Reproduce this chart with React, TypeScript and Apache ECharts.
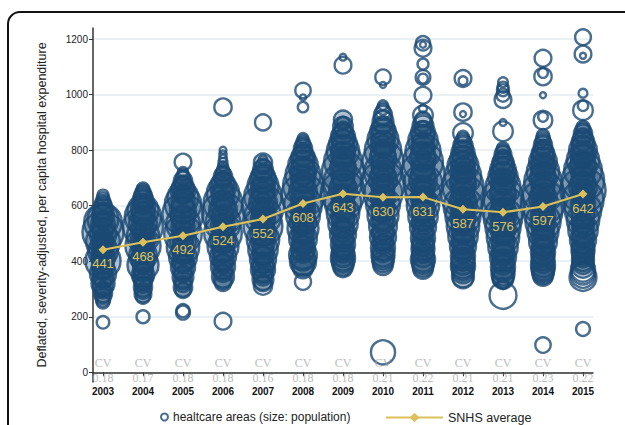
import React, { useEffect, useRef } from "react";
import * as echarts from "echarts";

const years = [2003, 2004, 2005, 2006, 2007, 2008, 2009, 2010, 2011, 2012, 2013, 2014, 2015];
const snhsAverage = [441, 468, 492, 524, 552, 608, 643, 630, 631, 587, 576, 597, 642];
const cvValues = [0.18, 0.17, 0.18, 0.18, 0.16, 0.18, 0.18, 0.21, 0.22, 0.21, 0.21, 0.23, 0.22];
const yTicks = [0, 200, 400, 600, 800, 1000, 1200];

// [expenditure, population (thousands)] per healthcare area
const areas2003: [number, number][] = [
  [638, 60], [626, 90], [612, 150], [600, 220], [588, 300], [575, 250], [563, 400], [551, 900], [540, 1400],
  [528, 500], [517, 350], [505, 1700], [494, 600], [482, 300], [470, 1100], [459, 450], [447, 250], [436, 800],
  [424, 380], [413, 500], [401, 1200], [390, 300], [378, 420], [366, 260], [355, 600], [343, 350], [331, 200],
  [320, 450], [308, 300], [296, 180], [285, 250], [274, 160], [262, 130], [252, 90], [180, 90],
  [545, 200], [480, 150], [420, 180], [360, 150], [300, 120],
];
const areas2004: [number, number][] = [
  [662, 80], [652, 120], [641, 200], [630, 260], [618, 350], [606, 300], [595, 500], [583, 900], [571, 450],
  [560, 1300], [548, 380], [537, 700], [525, 1600], [513, 420], [502, 300], [490, 1000], [478, 500], [467, 350],
  [455, 1200], [444, 400], [432, 300], [420, 700], [409, 450], [397, 380], [386, 900], [374, 300], [362, 250],
  [351, 420], [339, 300], [328, 220], [316, 180], [305, 250], [293, 160], [282, 200], [272, 120], [200, 100],
  [610, 150], [560, 200], [470, 160], [380, 140],
];
const areas2005: [number, number][] = [
  [757, 200], [722, 40], [712, 70], [700, 130], [690, 250], [678, 200], [666, 380], [654, 500], [642, 300],
  [630, 900], [618, 450], [606, 1300], [594, 400], [582, 600], [570, 1700], [558, 500], [546, 350], [534, 1100],
  [522, 450], [510, 300], [498, 1400], [486, 380], [474, 600], [462, 300], [450, 1000], [438, 420], [426, 300],
  [414, 700], [402, 380], [390, 250], [378, 500], [366, 300], [354, 200], [342, 350], [330, 220], [318, 180],
  [306, 260], [295, 150], [222, 100], [215, 120], [640, 150], [520, 180], [430, 150],
];
const areas2006: [number, number][] = [
  [955, 220], [800, 10], [785, 15], [770, 20], [756, 30], [742, 45], [728, 80], [716, 150], [705, 250],
  [693, 200], [681, 400], [669, 600], [657, 350], [645, 1000], [633, 450], [621, 300], [609, 1500], [597, 500],
  [585, 700], [573, 1800], [561, 400], [549, 350], [537, 1200], [525, 500], [513, 300], [501, 1400], [489, 420],
  [477, 600], [465, 300], [453, 900], [441, 400], [429, 300], [417, 600], [405, 350], [393, 250], [381, 500],
  [369, 300], [357, 220], [345, 400], [333, 250], [322, 180], [184, 200], [600, 160], [540, 180], [470, 150], [380, 130],
];
const areas2007: [number, number][] = [
  [900, 180], [765, 30], [755, 250], [742, 150], [730, 300], [718, 250], [706, 450], [694, 600], [682, 350],
  [670, 900], [658, 500], [646, 400], [634, 1400], [622, 500], [610, 700], [598, 1800], [586, 450], [574, 350],
  [562, 1300], [550, 500], [538, 400], [526, 1500], [514, 420], [502, 600], [490, 300], [478, 1000], [466, 450],
  [454, 300], [442, 800], [430, 350], [418, 300], [406, 600], [394, 350], [382, 400], [370, 500], [358, 300],
  [346, 250], [334, 350], [322, 200], [312, 250], [620, 150], [560, 180], [480, 160], [400, 150],
];
const areas2008: [number, number][] = [
  [1015, 160], [990, 5], [955, 50], [843, 50], [830, 100], [818, 150], [806, 250], [794, 200], [782, 350],
  [770, 500], [758, 400], [746, 800], [734, 450], [722, 600], [710, 1200], [698, 500], [686, 400], [674, 1600],
  [662, 500], [650, 700], [638, 1900], [626, 450], [614, 400], [602, 1400], [590, 500], [578, 350], [566, 1100],
  [554, 450], [542, 600], [530, 300], [518, 900], [506, 400], [494, 350], [482, 700], [470, 400], [458, 300],
  [446, 500], [434, 400], [422, 700], [410, 500], [398, 600], [386, 400], [374, 300], [326, 180], [700, 150],
  [600, 180], [500, 160], [440, 150],
];
const areas2009: [number, number][] = [
  [1106, 200], [1135, 10], [910, 250], [897, 100], [885, 300], [872, 200], [860, 350], [847, 500], [835, 400],
  [822, 700], [810, 450], [797, 1000], [785, 500], [772, 400], [760, 1400], [747, 500], [735, 600], [722, 1800],
  [710, 450], [697, 400], [685, 1500], [672, 500], [660, 700], [647, 2000], [635, 450], [622, 400], [610, 1300],
  [597, 500], [585, 350], [572, 1000], [560, 450], [547, 400], [535, 800], [522, 350], [510, 400], [497, 600],
  [485, 350], [472, 300], [460, 500], [447, 350], [435, 400], [422, 450], [410, 500], [398, 400], [386, 350],
  [375, 250], [760, 150], [640, 180], [520, 160], [430, 150],
];
const areas2010: [number, number][] = [
  [1063, 160], [1035, 5], [72, 500], [962, 40], [950, 80], [938, 150], [926, 250], [914, 200], [902, 350],
  [890, 250], [877, 450], [864, 600], [851, 400], [838, 900], [825, 500], [812, 400], [799, 1300], [786, 500],
  [773, 600], [760, 1700], [747, 450], [734, 400], [721, 1400], [708, 500], [695, 700], [682, 2000], [669, 450],
  [656, 400], [643, 1500], [630, 500], [617, 350], [604, 1100], [591, 450], [578, 400], [565, 900], [552, 350],
  [539, 400], [526, 700], [513, 350], [500, 400], [487, 600], [474, 350], [461, 300], [448, 500], [435, 350],
  [422, 450], [410, 400], [398, 350], [386, 300], [800, 150], [700, 180], [580, 160], [470, 150],
];
const areas2011: [number, number][] = [
  [1185, 130], [1180, 5], [1167, 200], [1110, 60], [1062, 140], [1058, 40], [998, 200], [950, 20], [925, 300],
  [912, 150], [900, 250], [887, 350], [874, 200], [861, 500], [848, 400], [835, 800], [822, 450], [809, 400],
  [796, 1200], [783, 500], [770, 600], [757, 1600], [744, 450], [731, 400], [718, 1900], [705, 500], [692, 700],
  [679, 1500], [666, 450], [653, 400], [640, 1200], [627, 500], [614, 350], [601, 1000], [588, 450], [575, 400],
  [562, 800], [549, 350], [536, 400], [523, 600], [510, 350], [497, 300], [484, 500], [471, 350], [458, 400],
  [445, 450], [432, 350], [419, 400], [406, 500], [394, 400], [382, 350], [372, 300], [780, 150], [660, 180],
  [540, 160], [450, 150],
];
const areas2012: [number, number][] = [
  [1058, 200], [1050, 30], [937, 220], [930, 5], [862, 300], [850, 60], [838, 120], [826, 200], [814, 300],
  [802, 250], [790, 450], [778, 350], [766, 600], [754, 400], [742, 900], [730, 500], [718, 400], [706, 1300],
  [694, 500], [682, 600], [670, 1700], [658, 450], [646, 400], [634, 1900], [622, 500], [610, 700], [598, 1500],
  [586, 450], [574, 400], [562, 1200], [550, 500], [538, 350], [526, 1000], [514, 450], [502, 400], [490, 800],
  [478, 350], [466, 400], [454, 600], [442, 350], [430, 300], [418, 500], [406, 400], [394, 450], [382, 500],
  [370, 400], [358, 350], [346, 400], [339, 320], [720, 150], [620, 180], [520, 160], [420, 150],
];
const areas2013: [number, number][] = [
  [1045, 40], [1027, 60], [1016, 80], [998, 100], [982, 200], [900, 10], [868, 300], [807, 80], [796, 120],
  [785, 200], [774, 150], [762, 300], [750, 400], [738, 350], [726, 600], [714, 450], [702, 800], [690, 500],
  [678, 400], [666, 1200], [654, 500], [642, 600], [630, 1600], [618, 450], [606, 400], [594, 1900], [582, 500],
  [570, 700], [558, 1500], [546, 450], [534, 400], [522, 1200], [510, 500], [498, 350], [486, 1000], [474, 450],
  [462, 400], [450, 800], [438, 350], [426, 400], [414, 600], [402, 400], [390, 350], [378, 500], [366, 400],
  [354, 450], [342, 350], [338, 350], [320, 60], [277, 650], [700, 150], [600, 180], [500, 160], [410, 150],
];
const areas2014: [number, number][] = [
  [1131, 200], [1078, 40], [1065, 220], [998, 5], [920, 40], [908, 260], [854, 80], [842, 120], [830, 160],
  [818, 250], [806, 200], [794, 350], [782, 450], [770, 400], [758, 700], [746, 500], [734, 450], [722, 1000],
  [710, 500], [698, 600], [686, 1400], [674, 450], [662, 400], [650, 1700], [638, 500], [626, 700], [614, 2000],
  [602, 450], [590, 400], [578, 1500], [566, 500], [554, 350], [542, 1200], [530, 450], [518, 400], [506, 900],
  [494, 350], [482, 400], [470, 700], [458, 350], [446, 400], [434, 500], [422, 400], [410, 450], [398, 400],
  [386, 500], [374, 450], [364, 400], [355, 350], [347, 300], [98, 160], [740, 150], [630, 180], [520, 160], [430, 150],
];
const areas2015: [number, number][] = [
  [1207, 170], [1146, 200], [1140, 5], [1005, 30], [960, 50], [944, 300], [883, 100], [872, 150], [860, 250],
  [848, 200], [836, 350], [824, 450], [812, 400], [800, 700], [788, 500], [776, 450], [764, 1000], [752, 500],
  [740, 600], [728, 1400], [716, 450], [704, 400], [692, 1800], [680, 500], [668, 700], [656, 2100], [644, 450],
  [632, 400], [620, 1700], [608, 500], [596, 350], [584, 1300], [572, 450], [560, 400], [548, 1000], [536, 350],
  [524, 400], [512, 800], [500, 350], [488, 400], [476, 600], [464, 350], [452, 400], [440, 450], [428, 400],
  [416, 350], [404, 400], [392, 350], [380, 400], [370, 500], [358, 450], [348, 500], [342, 650], [156, 120],
  [760, 150], [640, 180], [530, 160], [430, 150],
];

const allAreas = [
  areas2003, areas2004, areas2005, areas2006, areas2007, areas2008, areas2009,
  areas2010, areas2011, areas2012, areas2013, areas2014, areas2015,
];

const NAVY = "#1b4a74";
const CORE_FILL = "rgba(27,74,116,0.42)";
const GOLD = "#dcc05a";
const AREA_NAME = "healtcare areas (size: population)";
const AVG_NAME = "SNHS average";

export default function App() {
  const ref = useRef<HTMLDivElement>(null);

  useEffect(() => {
    if (!ref.current) return;
    const chart = echarts.init(ref.current, null, { renderer: "svg" });

    const bubbleData = years.flatMap((y, i) => allAreas[i].map(([v, p]) => [y, v, p]));
    const avgOf = (year: number) => snhsAverage[years.indexOf(year)];

    chart.setOption({
      animation: false,
      backgroundColor: "#fff",
      textStyle: { fontFamily: "Liberation Sans, Arial, sans-serif" },
      graphic: [
        {
          type: "rect",
          shape: { x: 8, y: 12, width: 720, height: 520, r: 12 },
          style: { fill: "none", stroke: "#111", lineWidth: 2 },
          silent: true,
        },
      ],
      grid: { left: 93, right: 32, top: 28, bottom: 43 },
      legend: [
        {
          data: [
            {
              name: AREA_NAME,
              itemStyle: { color: "rgba(0,0,0,0)", borderColor: NAVY, borderWidth: 2 },
            },
          ],
          left: 155,
          top: 406,
          itemWidth: 7,
          itemHeight: 7,
          itemGap: 6,
          textStyle: { fontSize: 12, color: "#222" },
        },
        {
          data: [AVG_NAME],
          left: 380,
          top: 406,
          itemWidth: 57,
          itemHeight: 12,
          itemGap: 10,
          textStyle: { fontSize: 12.5, color: "#222" },
        },
      ],
      xAxis: {
        type: "value",
        min: 2002.75,
        max: 2015.25,
        splitNumber: 12,
        minInterval: 1,
        maxInterval: 1,
        splitLine: { show: false },
        axisLine: { show: true, lineStyle: { color: "#333", width: 1.5 } },
        axisTick: { show: true, length: 4, lineStyle: { color: "#333" } },
        axisLabel: {
          fontSize: 10,
          fontWeight: "bold",
          color: "#111",
          margin: 4,
          showMinLabel: false,
          showMaxLabel: false,
          formatter: (v: number) => (Number.isInteger(v) ? String(v) : ""),
        },
      },
      yAxis: {
        type: "value",
        min: -35,
        max: 1240,
        splitNumber: 6,
        minInterval: 200,
        maxInterval: 200,
        name: "Deflated, severity-adjusted, per capita hospital expenditure",
        nameLocation: "middle",
        nameGap: 45,
        nameTextStyle: { fontSize: 12.5, color: "#222" },
        splitLine: { show: false },
        axisLine: { show: true, lineStyle: { color: "#333", width: 1.5 } },
        axisTick: { show: true, length: 4, lineStyle: { color: "#333" } },
        axisLabel: {
          fontSize: 10,
          color: "#222",
          margin: 5,
          showMinLabel: false,
          showMaxLabel: false,
          formatter: (v: number) => (v % 200 === 0 ? String(v) : ""),
        },
      },
      series: [
        {
          name: "grid",
          type: "line",
          data: [],
          silent: true,
          z: 0,
          markLine: {
            z: 0,
            silent: true,
            symbol: "none",
            label: { show: false },
            lineStyle: { color: "#e2ecf1", width: 1.5, type: "solid" },
            data: yTicks.map((t) => ({ yAxis: t })),
          },
        },
        {
          name: AREA_NAME,
          type: "scatter",
          data: bubbleData,
          z: 2,
          symbol: "circle",
          symbolSize: (d: number[]) => 4 + Math.sqrt(d[2]) * 0.9,
          itemStyle: {
            color: (p: any) => {
              const avg = avgOf(p.data[0]);
              return Math.abs(p.data[1] - avg) < 0.42 * avg ? CORE_FILL : "rgba(0,0,0,0)";
            },
            borderColor: NAVY,
            borderWidth: 2.4,
          },
        },
        {
          name: AVG_NAME,
          type: "line",
          data: years.map((y, i) => [y, snhsAverage[i]]),
          z: 5,
          symbol: "diamond",
          symbolSize: 9,
          lineStyle: { color: GOLD, width: 2 },
          itemStyle: { color: GOLD },
          label: {
            show: true,
            position: "bottom",
            distance: 3,
            color: GOLD,
            fontSize: 13,
          },
        },
        {
          name: "cvTitle",
          type: "scatter",
          silent: true,
          symbolSize: 0,
          data: years.map((y) => [y, 32]),
          label: {
            show: true,
            position: "inside",
            formatter: "CV",
            color: "#a8a8a8",
            fontSize: 12,
            fontFamily: "Liberation Serif, serif",
          },
        },
        {
          name: "cvValue",
          type: "scatter",
          silent: true,
          symbolSize: 0,
          data: years.map((y, i) => [y, -20, cvValues[i]]),
          label: {
            show: true,
            position: "inside",
            formatter: (p: any) => p.data[2].toFixed(2),
            color: "#a8a8a8",
            fontSize: 12,
            fontFamily: "Liberation Serif, serif",
          },
        },
      ],
    });

    return () => chart.dispose();
  }, []);

  return (
    <div style={{ position: "fixed", left: 0, top: 0, width: 625, height: 425, background: "#fff" }}>
      <div ref={ref} style={{ width: 625, height: 425 }} />
    </div>
  );
}
